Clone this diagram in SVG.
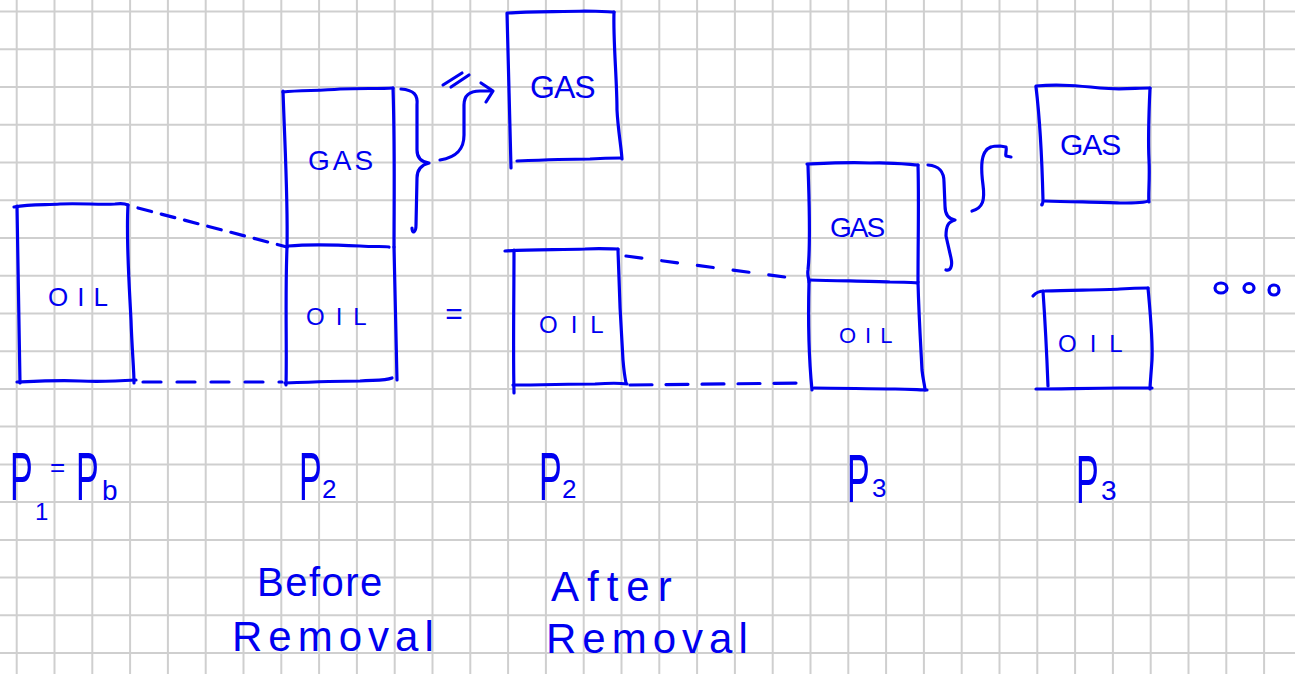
<svg xmlns="http://www.w3.org/2000/svg" width="1295" height="674" viewBox="0 0 1295 674">
<style>
.grid{fill:none;stroke:#cfcfcf;stroke-width:2}
.ink{fill:none;stroke:#0000f0;stroke-width:3.2;stroke-linecap:round;stroke-linejoin:round}
.d1{stroke-dasharray:14 10}
.d2{stroke-dasharray:18 16}
.d3{stroke-dasharray:16 20}
.d4{stroke-dasharray:22 14}
.hw{fill:#0000f0;font-family:"Liberation Sans",Arial,sans-serif}
</style>
<rect width="1295" height="674" fill="#ffffff"/>
<g id="grid">
<path class="grid" d="M16.7 0V674M54.5 0V674M92.3 0V674M130.1 0V674M167.9 0V674M205.7 0V674M243.5 0V674M281.3 0V674M319.1 0V674M356.9 0V674M394.7 0V674M432.5 0V674M470.3 0V674M508.1 0V674M545.9 0V674M583.7 0V674M621.5 0V674M659.3 0V674M697.1 0V674M734.9 0V674M772.7 0V674M810.5 0V674M848.3 0V674M886.1 0V674M923.9 0V674M961.7 0V674M999.5 0V674M1037.3 0V674M1075.1 0V674M1112.9 0V674M1150.7 0V674M1188.5 0V674M1226.3 0V674M1264.1 0V674"/>
<path class="grid" d="M0 11.5H1295M0 49.2H1295M0 87H1295M0 124.7H1295M0 162.5H1295M0 200.2H1295M0 237.9H1295M0 275.7H1295M0 313.4H1295M0 351.2H1295M0 388.9H1295M0 426.6H1295M0 464.4H1295M0 502.1H1295M0 539.9H1295M0 577.6H1295M0 615.3H1295M0 653.1H1295"/>
</g>

<g id="p1-oil">
<path class="ink" d="M14 207 C30 204 45 205 60 204 C80 203 100 205 115 204 C122 203 126 204 128 205"/>
<path class="ink" d="M128 205 C126 240 129 280 131 320 C132 350 134 370 134 383"/>
<path class="ink" d="M17 206 C18 250 19 300 20 383"/>
<path class="ink" d="M17 382 C40 381 60 380 80 381 C100 382 120 381 136 380"/>
<text class="hw" x="48" y="306" font-size="26" letter-spacing="9">OIL</text>
</g>

<g id="p2-before-gas">
<path class="ink" d="M283 92 C300 90 320 91 340 89 C360 88 380 89 393 88"/>
<path class="ink" d="M393 88 C395 150 394 200 394 247"/>
<path class="ink" d="M283 91 C285 150 288 200 287 247"/>
<path class="ink" d="M288 246 C310 244 340 245 360 246 C375 247 385 246 389 247"/>
<text class="hw" x="308" y="170" font-size="28" letter-spacing="3">GAS</text>
</g>
<g id="p2-before-oil">
<path class="ink" d="M394 247 C395 300 396 340 397 380"/>
<path class="ink" d="M287 247 C285 300 287 350 286 385"/>
<path class="ink" d="M285 383 C310 382 340 381 360 381 C375 380 385 381 392 378"/>
<text class="hw" x="306" y="325" font-size="24" letter-spacing="11">OIL</text>
</g>

<g id="p2-after-gas">
<path class="ink" d="M508 13 C530 11 560 12 585 11 C600 11 610 12 614 12"/>
<path class="ink" d="M614 12 C613 40 617 80 617 110 C618 130 621 145 622 159"/>
<path class="ink" d="M507 13 C508 60 510 120 511 168"/>
<path class="ink" d="M517 161 C540 160 570 159 590 159 C605 158 615 158 621 158"/>
<text class="hw" x="530" y="98" font-size="32" letter-spacing="-1">GAS</text>
</g>
<g id="p2-after-oil">
<path class="ink" d="M505 251 C530 249 560 250 585 249 C600 248 612 249 618 249"/>
<path class="ink" d="M618 249 C619 290 621 330 623 360 C624 372 625 378 626 383"/>
<path class="ink" d="M514 250 C514 300 513 350 514 393"/>
<path class="ink" d="M513 385 C540 385 570 384 595 384 C610 383 620 383 627 384"/>
<text class="hw" x="539" y="333" font-size="24" letter-spacing="13">OIL</text>
</g>

<g id="p3-before-gas">
<path class="ink" d="M807 164 C830 163 850 162 870 163 C890 162 905 164 918 165"/>
<path class="ink" d="M918 165 C919 200 918 240 918 282"/>
<path class="ink" d="M808 165 C809 200 811 240 808 270 C807 275 809 279 809 282"/>
<path class="ink" d="M809 280 C840 281 870 281 890 282 C905 282 912 282 917 283"/>
<text class="hw" x="830" y="237" font-size="28" letter-spacing="-2">GAS</text>
</g>
<g id="p3-before-oil">
<path class="ink" d="M918 282 C919 320 921 350 922 370 C923 380 925 386 925 390"/>
<path class="ink" d="M809 282 C808 320 809 360 812 390"/>
<path class="ink" d="M814 388 C840 388 870 389 895 389 C910 389 920 390 927 390"/>
<text class="hw" x="839" y="343" font-size="22" letter-spacing="9">OIL</text>
</g>

<g id="p3-after-gas">
<path class="ink" d="M1036 86 C1060 84 1080 86 1100 88 C1120 90 1135 88 1150 88"/>
<path class="ink" d="M1150 88 C1149 110 1148 140 1149 160 C1150 180 1148 195 1149 202"/>
<path class="ink" d="M1036 87 C1040 120 1042 160 1043 200 C1043 205 1041 206 1042 204"/>
<path class="ink" d="M1045 201 C1070 202 1100 202 1120 203 C1135 203 1145 203 1148 201"/>
<text class="hw" x="1060" y="155" font-size="30" letter-spacing="-1">GAS</text>
</g>
<g id="p3-after-oil">
<path class="ink" d="M1033 296 C1036 292 1040 291 1045 291 C1070 290 1100 290 1120 289 C1135 288 1142 288 1148 288"/>
<path class="ink" d="M1148 288 C1150 310 1153 340 1152 360 C1151 375 1150 385 1150 389"/>
<path class="ink" d="M1043 291 C1045 320 1047 360 1048 386"/>
<path class="ink" d="M1036 389 C1060 389 1090 388 1120 388 C1135 388 1145 388 1152 388"/>
<text class="hw" x="1058" y="352" font-size="24" letter-spacing="13">OIL</text>
</g>

<g id="continuation">
<ellipse class="ink" cx="1221" cy="288" rx="6" ry="5"/>
<ellipse class="ink" cx="1249" cy="288" rx="5" ry="4.5"/>
<ellipse class="ink" cx="1274" cy="290" rx="5" ry="5"/>
</g>

<g id="connectors">
<path class="ink d1" d="M138 208 L287 247"/>
<path class="ink d2" d="M143 382 L282 382"/>
<path class="ink d3" d="M626 256 L800 279"/>
<path class="ink d4" d="M630 385 L805 383"/>
<path class="ink" d="M401 89 C414 90 418 95 417 105 L417 150 C417 158 421 162 429 163 C421 165 417 170 417 178 L416 225 C416 233 412 234 412 228"/>
<path class="ink" d="M440 160 C458 157 464 148 464 135 L464 105 C464 95 470 91 480 91 L491 91"/>
<path class="ink" d="M481 83 L493 91 L486 102"/>
<path class="ink" d="M443 85 L462 73"/>
<path class="ink" d="M451 87 L469 75"/>
<path class="ink" d="M928 165 C940 166 944 172 944 182 L945 206 C945 215 949 219 955 220 C948 222 946 226 946 236 L951 258 C953 267 950 271 946 270"/>
<path class="ink" d="M972 211 C983 208 985 200 983 185 C981 170 981 158 985 152 C988 147 992 146 1000 146 L1006 147 C1007 150 1005 154 1006 156 L1011 157"/>
</g>

<g id="labels">
<text class="hw" x="454" y="324" font-size="30" text-anchor="middle">=</text>
<text class="hw" font-size="68" transform="translate(10 500) scale(0.5 1)">P</text>
<text class="hw" x="35" y="520" font-size="24">1</text>
<text class="hw" x="50" y="476" font-size="26">=</text>
<text class="hw" font-size="68" transform="translate(76 500) scale(0.5 1)">P</text>
<text class="hw" x="102" y="500" font-size="28">b</text>

<text class="hw" font-size="68" transform="translate(299 500) scale(0.5 1)">P</text>
<text class="hw" x="322" y="498" font-size="26">2</text>

<text class="hw" font-size="68" transform="translate(539 500) scale(0.5 1)">P</text>
<text class="hw" x="562" y="498" font-size="26">2</text>

<text class="hw" font-size="68" transform="translate(847 502) scale(0.5 1)">P</text>
<text class="hw" x="872" y="497" font-size="26">3</text>

<text class="hw" font-size="68" transform="translate(1076 503) scale(0.5 1)">P</text>
<text class="hw" x="1101" y="500" font-size="28">3</text>

<text class="hw" x="257" y="596" font-size="40" letter-spacing="1.5">Before</text>
<text class="hw" x="232" y="651" font-size="42" letter-spacing="6">Removal</text>
<text class="hw" x="551" y="601" font-size="42" letter-spacing="8">After</text>
<text class="hw" x="546" y="653" font-size="42" letter-spacing="6">Removal</text>
</g>
</svg>
